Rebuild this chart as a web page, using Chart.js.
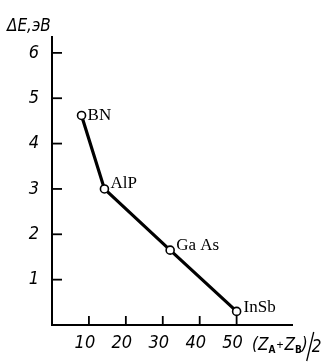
<!DOCTYPE html>
<html><head><meta charset="utf-8">
<script src="https://cdn.jsdelivr.net/npm/chart.js@4"></script>
<style>html,body{margin:0;padding:0;background:#fff}#w{width:327px;height:363px}</style>
</head><body><div id="w"><canvas id="c"></canvas></div>
<script>
const compounds = ["BN", "AlP", "Ga As", "InSb"];
const zMean = [8, 14.2, 32, 50];
const gapEv = [4.62, 3.0, 1.65, 0.3];
const xTickValues = [10, 20, 30, 40, 50];
const yTickValues = [1, 2, 3, 4, 5, 6];
const yTitle = "ΔE,эВ";

const tickFont = {family: "'Liberation Sans Narrow','DejaVu Sans Condensed',sans-serif", size: 18, style: 'italic'};

const overlay = {
  id: 'overlay',
  afterDatasetsDraw(chart) {
    const ctx = chart.ctx, xs = chart.scales.x, ys = chart.scales.y;
    const a = chart.chartArea;
    ctx.save();
    ctx.strokeStyle = '#000'; ctx.lineWidth = 1.8;
    yTickValues.forEach(v => { const y = ys.getPixelForValue(v); ctx.beginPath(); ctx.moveTo(a.left, y); ctx.lineTo(a.left + 10, y); ctx.stroke(); });
    xTickValues.forEach(v => { const x = xs.getPixelForValue(v); ctx.beginPath(); ctx.moveTo(x, a.bottom); ctx.lineTo(x, a.bottom - 9); ctx.stroke(); });
    // point labels
    ctx.fillStyle = '#000';
    ctx.font = "17px 'Liberation Serif', serif";
    ctx.textBaseline = 'middle'; ctx.textAlign = 'left';
    const offs = [[6, 0], [6, -5], [6, -5], [7, -4]];
    compounds.forEach((n, i) => {
      const x = xs.getPixelForValue(zMean[i]), y = ys.getPixelForValue(gapEv[i]);
      ctx.fillText(n, x + offs[i][0], y + offs[i][1]);
    });
    // y title
    ctx.font = "italic 17px 'Liberation Sans Narrow','DejaVu Sans Condensed',sans-serif";
    ctx.textBaseline = 'alphabetic';
    ctx.fillText(yTitle, 7, 31);
    // x title (Z_A+Z_B)/2
    let x = 252; const yb = 350;
    const big = "italic 17px 'Liberation Sans Narrow','DejaVu Sans Condensed',sans-serif";
    const sub = "bold 10px 'Liberation Sans Narrow','DejaVu Sans Condensed',sans-serif";
    const put = (t, f, dy) => { ctx.font = f; ctx.fillText(t, x, yb + dy); x += ctx.measureText(t).width; };
    put("(Z", big, 0); put("A", sub, 3); x += 1; put("+", "12px 'Liberation Sans Narrow',sans-serif", -1); x += 1;
    put("Z", big, 0); put("B", sub, 3); put(")", big, 0);
    ctx.lineWidth = 1.3; ctx.beginPath(); ctx.moveTo(x + 6, 332); ctx.lineTo(x - 1, 361); ctx.stroke();
    x += 4; put("2", big, 2);
    ctx.restore();
  }
};

new Chart(document.getElementById('c'), {
  type: 'scatter',
  data: { datasets: [{
    data: zMean.map((v, i) => ({x: v, y: gapEv[i]})),
    showLine: true, borderColor: '#000', borderWidth: 3.2,
    pointRadius: 4, pointBorderWidth: 1.6, pointBackgroundColor: '#fff', pointBorderColor: '#000',
    pointHoverRadius: 4
  }]},
  options: {
    responsive: true, maintainAspectRatio: false, animation: false,
    plugins: { legend: {display: false}, tooltip: {enabled: false} },
    layout: { padding: {left: 0, top: 37, right: 35, bottom: 0} },
    scales: {
      x: { type: 'linear', min: 0, max: 65,
        afterFit(s) { s.height = 38; },
        afterBuildTicks(s) { s.ticks = xTickValues.map(v => ({value: v})); },
        grid: {display: false, drawTicks: false},
        border: {display: true, color: '#000', width: 2},
        ticks: {color: '#000', font: tickFont, padding: 8, labelOffset: -4, maxRotation: 0, autoSkip: false}
      },
      y: { type: 'linear', min: 0, max: 6.35,
        afterFit(s) { s.width = 52; },
        afterBuildTicks(s) { s.ticks = yTickValues.map(v => ({value: v})); },
        grid: {display: false, drawTicks: false},
        border: {display: true, color: '#000', width: 2},
        ticks: {color: '#000', font: tickFont, padding: 13, autoSkip: false}
      }
    }
  },
  plugins: [overlay]
});
</script></body></html>
